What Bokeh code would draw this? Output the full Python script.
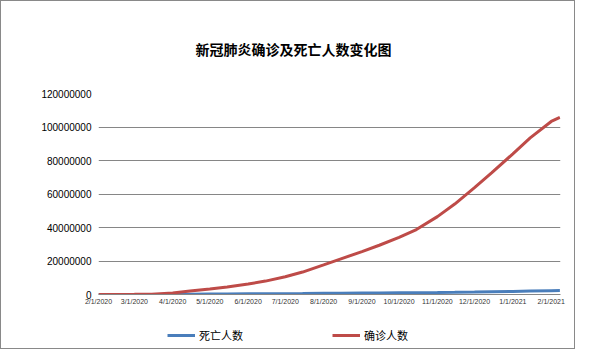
from datetime import date
from bokeh.plotting import figure
from bokeh.layouts import column
from bokeh.models import FixedTicker, Legend, LegendItem, Title
from bokeh.embed import file_html
from bokeh.resources import INLINE

title_text = "新冠肺炎确诊及死亡人数变化图"
series_names = ["死亡人数", "确诊人数"]
series_colors = ["#4A7EBB", "#BE4B48"]

dates = ["2020-02-01", "2020-02-15", "2020-03-01", "2020-03-15", "2020-04-01", "2020-04-15",
         "2020-05-01", "2020-05-15", "2020-06-01", "2020-06-15", "2020-07-01", "2020-07-15",
         "2020-08-01", "2020-08-15", "2020-09-01", "2020-09-15", "2020-10-01", "2020-10-15",
         "2020-11-01", "2020-11-15", "2020-12-01", "2020-12-15", "2021-01-01", "2021-01-15",
         "2021-02-01", "2021-02-08"]

confirmed = [12000, 69000, 88000, 169000, 932000, 2080000,
             3340000, 4540000, 6270000, 8000000, 10600000, 13400000,
             17700000, 21300000, 25600000, 29400000, 34100000, 38800000,
             46500000, 54000000, 63800000, 72700000, 84000000, 93500000,
             103300000, 105800000]

deaths = [259, 1670, 2996, 6500, 47000, 137000,
          239000, 308000, 377000, 434000, 516000, 583000,
          683000, 770000, 856000, 933000, 1018000, 1098000,
          1200000, 1320000, 1480000, 1640000, 1840000, 2030000,
          2240000, 2320000]

tick_dates = ["2020-02-01", "2020-03-01", "2020-04-01", "2020-05-01", "2020-06-01", "2020-07-01",
              "2020-08-01", "2020-09-01", "2020-10-01", "2020-11-01", "2020-12-01", "2021-01-01",
              "2021-02-01"]
tick_labels = ["2/1/2020", "3/1/2020", "4/1/2020", "5/1/2020", "6/1/2020", "7/1/2020",
               "8/1/2020", "9/1/2020", "10/1/2020", "11/1/2020", "12/1/2020", "1/1/2021",
               "2/1/2021"]
y_ticks = [0, 20000000, 40000000, 60000000, 80000000, 100000000, 120000000]

base = date(2020, 2, 1)
def day_index(s):
    y, m, d = map(int, s.split("-"))
    return (date(y, m, d) - base).days

x = [day_index(d) for d in dates]
tx = [day_index(d) for d in tick_dates]
series_values = [deaths, confirmed]

FONT = "Noto Sans CJK SC"

# main chart
p = figure(width=573, height=317, output_backend="svg", toolbar_location=None,
           x_range=(0, 373.5), y_range=(0, 120000000),
           min_border_left=97, min_border_right=14, min_border_top=90, min_border_bottom=24)
p.outline_line_color = None
p.background_fill_color = "white"
p.border_fill_color = "white"

p.title = Title(text=title_text, align="left", offset=97, text_font=FONT, text_font_size="14px",
                text_font_style="bold", text_color="#000000", standoff=70)

for vals, c in zip(series_values, series_colors):
    p.line(x, vals, line_color=c, line_width=3)

p.xaxis.ticker = FixedTicker(ticks=tx)
p.xaxis.major_label_overrides = {t: lab for t, lab in zip(tx, tick_labels)}
p.xaxis.major_label_text_font_size = "7px"
p.xaxis.major_label_text_font = "Liberation Sans"
p.xaxis.major_label_text_color = "#333333"
p.xaxis.major_tick_line_color = None
p.xaxis.major_tick_out = 0
p.xaxis.major_tick_in = 0
p.xaxis.minor_tick_line_color = None
p.xaxis.axis_line_color = "#868686"
p.xaxis.major_label_standoff = 3

p.yaxis.ticker = FixedTicker(ticks=y_ticks)
p.yaxis.major_label_overrides = {t: str(t) for t in y_ticks}
p.yaxis.major_label_text_font_size = "10px"
p.yaxis.major_label_text_font = "Liberation Sans"
p.yaxis.major_label_text_color = "#000000"
p.yaxis.axis_line_color = None
p.yaxis.major_tick_line_color = None
p.yaxis.major_tick_out = 0
p.yaxis.major_tick_in = 0
p.yaxis.minor_tick_line_color = None
p.yaxis.major_label_standoff = 7

p.xgrid.grid_line_color = None
p.ygrid.grid_line_color = "#868686"
p.ygrid.grid_line_width = 1

# legend strip below the chart (same series, drawn outside this strip's view)
q = figure(width=573, height=30, output_backend="svg", toolbar_location=None,
           x_range=(0, 1), y_range=(0, 1), x_axis_location=None, y_axis_location=None,
           min_border=0)
q.outline_line_color = None
q.xgrid.visible = False
q.ygrid.visible = False
q.border_fill_color = "white"
proxies = [q.line(x, vals, line_color=c, line_width=3) for vals, c in zip(series_values, series_colors)]

legend = Legend(items=[LegendItem(label=n, renderers=[r]) for n, r in zip(series_names, proxies)],
                orientation="horizontal", location=(69, 3), spacing=89,
                label_text_font=FONT, label_text_font_size="11px", label_text_color="#000000",
                glyph_width=28, label_standoff=4,
                border_line_color=None, background_fill_alpha=0,
                margin=0, padding=0)
q.add_layout(legend, "center")

layout = column(p, q, spacing=0, styles={"border": "1px solid #898989", "background": "white"})

open("out.html", "w").write(file_html(layout, INLINE))
